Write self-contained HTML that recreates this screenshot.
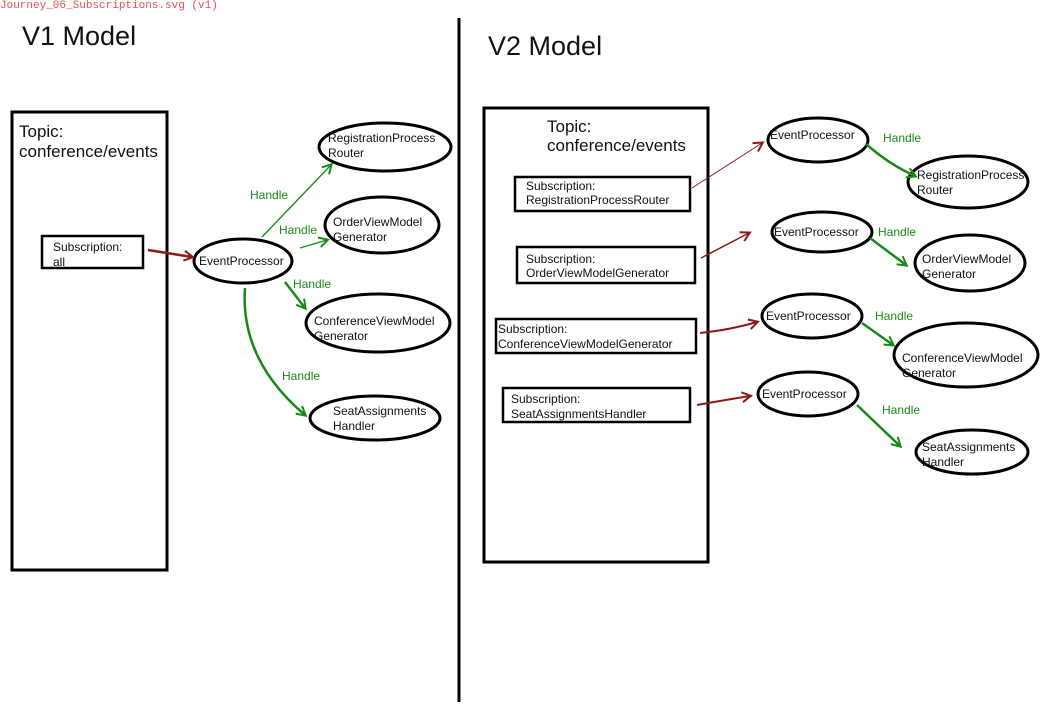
<!DOCTYPE html>
<html><head><meta charset="utf-8"><style>
body{margin:0;background:#fff}
svg text{font-family:"Liberation Sans",sans-serif;fill:#111}
.s{font-size:12px}.h{font-size:12px;fill:#1a8a1a}
</style></head><body>
<svg width="1042" height="704" viewBox="0 0 1042 704" xmlns="http://www.w3.org/2000/svg">
<defs>
<marker id="r" markerWidth="12" markerHeight="12" refX="9" refY="6" orient="auto" markerUnits="userSpaceOnUse"><path d="M1,1 L10,6 L1,11" fill="none" stroke="#8b1a1a" stroke-width="2"/></marker>
<marker id="g" markerWidth="12" markerHeight="12" refX="9" refY="6" orient="auto" markerUnits="userSpaceOnUse"><path d="M1,1 L10,6 L1,11" fill="none" stroke="#178a17" stroke-width="2"/></marker>
</defs>
<text x="0" y="8" style="font-family:'Liberation Mono',monospace;font-size:11px;fill:#e05050">Journey_06_Subscriptions.svg (v1)</text>
<text x="22" y="45" style="font-size:27px">V1 Model</text>
<text x="488" y="55" style="font-size:27px">V2 Model</text>
<line x1="459" y1="18" x2="459" y2="702" stroke="#000" stroke-width="3"/>
<g fill="none" stroke="#000" stroke-width="3">
<rect x="12" y="112" width="155" height="458"/>
<rect x="484" y="108" width="224" height="454"/>
<rect x="42" y="236" width="101" height="32" stroke-width="2.5"/>
<rect x="515" y="177" width="175" height="34" stroke-width="2.5"/>
<rect x="517" y="247" width="178" height="36" stroke-width="2.5"/>
<rect x="496" y="319" width="200" height="34" stroke-width="2.5"/>
<rect x="503" y="388" width="187" height="34" stroke-width="2.5"/>
<ellipse cx="243" cy="261" rx="49" ry="22"/>
<ellipse cx="385" cy="147" rx="66" ry="24"/>
<ellipse cx="382" cy="225" rx="57" ry="28"/>
<ellipse cx="378" cy="323" rx="72" ry="29"/>
<ellipse cx="375" cy="418" rx="65" ry="22"/>
<ellipse cx="818" cy="140" rx="50" ry="22"/>
<ellipse cx="822" cy="232" rx="50" ry="20"/>
<ellipse cx="812" cy="316" rx="50" ry="22"/>
<ellipse cx="808" cy="394" rx="50" ry="22"/>
<ellipse cx="968" cy="182" rx="60" ry="26"/>
<ellipse cx="970" cy="263" rx="55" ry="28"/>
<ellipse cx="966" cy="355" rx="72" ry="32"/>
<ellipse cx="972" cy="452" rx="56" ry="22"/>
</g>
<g fill="none" stroke="#8b1a1a">
<path d="M148,250 L192,257" stroke-width="2.5" marker-end="url(#r)"/>
<path d="M692,188 L762,143" stroke-width="1" marker-end="url(#r)"/>
<path d="M701,258 L749,233" stroke-width="1.5" marker-end="url(#r)"/>
<path d="M700,333 Q730,330 757,322" stroke-width="2" marker-end="url(#r)"/>
<path d="M697,405 Q725,400 750,396" stroke-width="2" marker-end="url(#r)"/>
</g>
<g fill="none" stroke="#178a17">
<path d="M262,237 L331,165" stroke-width="1.3" marker-end="url(#g)"/>
<path d="M300,248 L327,240" stroke-width="1.3" marker-end="url(#g)"/>
<path d="M285,282 L305,308" stroke-width="2.5" marker-end="url(#g)"/>
<path d="M245,288 Q240,360 305,415" stroke-width="2.5" marker-end="url(#g)"/>
<path d="M866,144 Q890,165 915,176" stroke-width="2.5" marker-end="url(#g)"/>
<path d="M870,238 L906,265" stroke-width="2.5" marker-end="url(#g)"/>
<path d="M862,323 L893,345" stroke-width="2.5" marker-end="url(#g)"/>
<path d="M857,405 L900,446" stroke-width="2.5" marker-end="url(#g)"/>
</g>
<text x="19" y="137" style="font-size:17px">Topic:</text>
<text x="19" y="157" style="font-size:17px">conference/events</text>
<text x="547" y="132" style="font-size:17px">Topic:</text>
<text x="547" y="151" style="font-size:17px">conference/events</text>
<text class="s" x="53" y="251">Subscription:</text><text class="s" x="53" y="266">all</text>
<text class="s" x="199" y="265">EventProcessor</text>
<text class="s" x="328" y="142">RegistrationProcess</text><text class="s" x="328" y="157">Router</text>
<text class="s" x="333" y="226">OrderViewModel</text><text class="s" x="333" y="241">Generator</text>
<text class="s" x="314" y="325">ConferenceViewModel</text><text class="s" x="314" y="340">Generator</text>
<text class="s" x="333" y="415">SeatAssignments</text><text class="s" x="333" y="430">Handler</text>
<text class="h" x="250" y="199">Handle</text>
<text class="h" x="279" y="234">Handle</text>
<text class="h" x="293" y="288">Handle</text>
<text class="h" x="282" y="380">Handle</text>
<text class="s" x="526" y="190">Subscription:</text><text class="s" x="526" y="204">RegistrationProcessRouter</text>
<text class="s" x="526" y="263">Subscription:</text><text class="s" x="526" y="277">OrderViewModelGenerator</text>
<text class="s" x="498" y="333">Subscription:</text><text class="s" x="498" y="348">ConferenceViewModelGenerator</text>
<text class="s" x="511" y="403">Subscription:</text><text class="s" x="511" y="418">SeatAssignmentsHandler</text>
<text class="s" x="770" y="139">EventProcessor</text>
<text class="s" x="774" y="236">EventProcessor</text>
<text class="s" x="766" y="320">EventProcessor</text>
<text class="s" x="762" y="398">EventProcessor</text>
<text class="s" x="917" y="179">RegistrationProcess</text><text class="s" x="917" y="194">Router</text>
<text class="s" x="922" y="263">OrderViewModel</text><text class="s" x="922" y="278">Generator</text>
<text class="s" x="902" y="362">ConferenceViewModel</text><text class="s" x="902" y="377">Generator</text>
<text class="s" x="922" y="451">SeatAssignments</text><text class="s" x="922" y="466">Handler</text>
<text class="h" x="883" y="142">Handle</text>
<text class="h" x="878" y="236">Handle</text>
<text class="h" x="875" y="320">Handle</text>
<text class="h" x="882" y="414">Handle</text>
</svg>
</body></html>
